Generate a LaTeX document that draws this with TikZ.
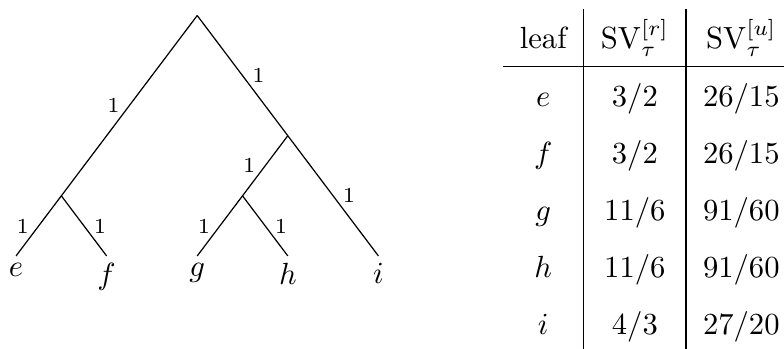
\documentclass[tikz,border=0pt]{standalone}
\usepackage{tikz}
\usetikzlibrary{positioning}
\renewcommand{\arraystretch}{1.55}

\begin{document}
\begin{tikzpicture}[
        x=0.52cm, y=0.69cm,
        leaf/.style={anchor=north, inner sep=2.3pt},
        edge/.style={thin},
        wlabel/.style={font=\scriptsize, inner sep=3pt}
    ]
        \useasboundingbox (-0.184cm,-1.068cm) rectangle ++(9cm,4.006cm);

        % Leaves
        \node[leaf] (e) at (0,0) {$e$};
        \node[leaf] (f) at (2,0) {$f$};
        \node[leaf] (g) at (4,0) {$g$};
        \node[leaf] (h) at (6,0) {$h$};
        \node[leaf] (i) at (8,0) {$i$};

        % Inner vertices
        \coordinate (ef) at (1,1);
        \coordinate (gh) at (5,1);
        \coordinate (ghi) at (6,2);
        \coordinate (root) at (4,4);

        % Edges with weights
        \draw[edge] (root) -- node[wlabel, left] {1} (ef);
        \draw[edge] (root) -- node[wlabel, right] {1} (ghi);
        \draw[edge] (ef) -- node[wlabel, left] {1} (e.north);
        \draw[edge] (ef) -- node[wlabel, right] {1} (f.north);
        \draw[edge] (ghi) -- node[wlabel, left] {1} (gh);
        \draw[edge] (ghi) -- node[wlabel, right] {1} (i.north);
        \draw[edge] (gh) -- node[wlabel, left] {1} (g.north);
        \draw[edge] (gh) -- node[wlabel, right] {1} (h.north);

        % Shapley values
        \node[anchor=north west, inner sep=0pt] (tbl) at (5.58cm,2.846cm) {%
            \setlength{\tabcolsep}{5.6pt}%
            \begin{tabular}{c|c|c}
                leaf & $\mathrm{SV}^{[r]}_{\tau}$ & $\mathrm{SV}^{[u]}_{\tau}$ \\ \hline
                $e$ & $3/2$ & $26/15$ \\
                $f$ & $3/2$ & $26/15$ \\
                $g$ & $11/6$ & $91/60$ \\
                $h$ & $11/6$ & $91/60$ \\
                $i$ & $4/3$ & $27/20$
            \end{tabular}};
    \end{tikzpicture}
\end{document}
